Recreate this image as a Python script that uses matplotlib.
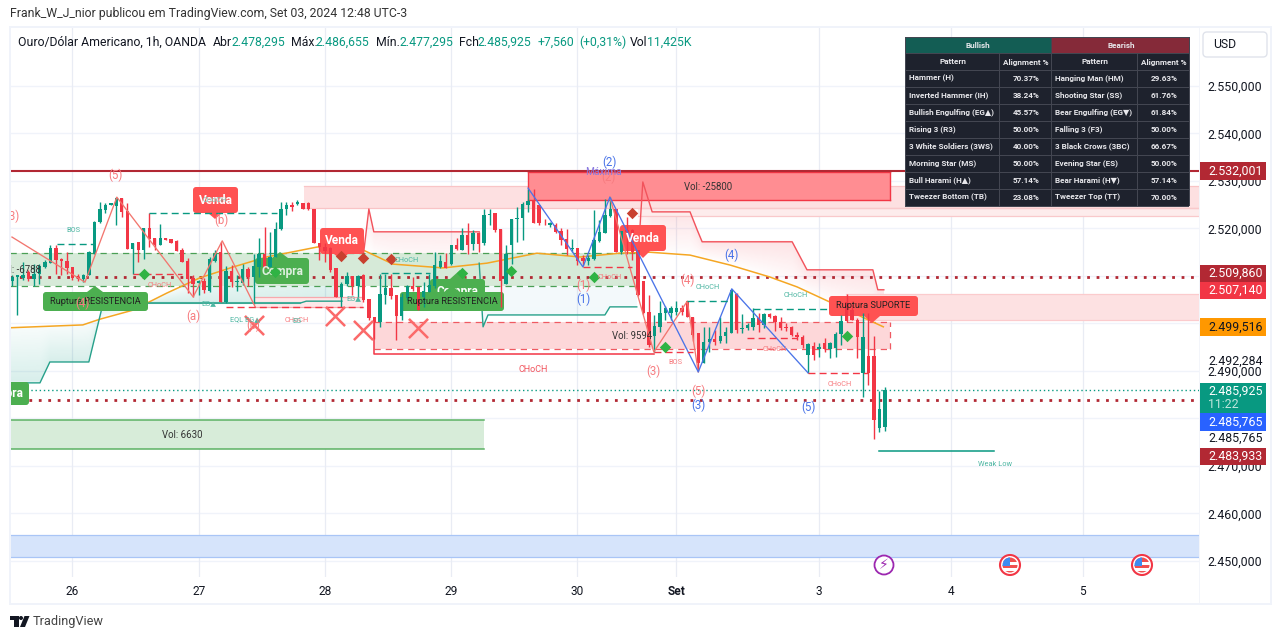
import numpy as np
import matplotlib
matplotlib.use("Agg")
import matplotlib.pyplot as plt
from matplotlib.patches import Rectangle, FancyBboxPatch, Circle, Polygon
from matplotlib.colors import to_rgb
from matplotlib.transforms import Affine2D

# ---------- candle data ----------
highs = [2510.2,2510.3,2513.0,2511.2,2512.6,2512.5,2513.3,2516.5,2516.5,2513.7,2515.1,2511.8,2510.5,2510.5,2515.3,2521.6,2525.6,2525.4,2525.4,2526.7,
 2526.5,2525.3,2516.9,2517.2,2520.0,2523.2,2517.9,2520.9,2518.1,2517.7,2517.6,2515.8,2513.8,2510.2,2509.1,2509.5,2514.0,2515.4,2517.2,2512.1,
 2512.3,2510.2,2512.6,2511.8,2514.7,2517.9,2520.4,2519.3,2521.4,2525.6,2525.6,2525.6,2526.0,2525.4,2525.6,2524.2,2516.9,2516.9,
 2516.0,2511.6,2508.8,2510.9,2510.0,2510.2,2510.5,2505.1,2501.4,2510.5,2510.5,2510.5,2506.0,2506.5,2508.1,2509.8,2507.7,2508.8,2510.5,2515.1,2514.4,2514.9,
 2516.5,2518.1,2520.0,2521.1,2519.7,2519.3,2524.2,2524.2,2523.2,2519.9,2516.5,2522.0,2524.6,2525.6,2528.4,2528.4,2524.9,2522.1,2521.4,2521.1,
 2520.0,2519.8,2517.7,2515.8,2514.4,2514.4,2523.9,2521.8,2526.3,2526.7,2524.2,2519.5,2522.5,2519.8,2515.4,2509.0,
 2506.0,2501.8,2504.7,2503.7,2503.6,2504.7,2503.9,2504.8,2501.3,2498.1,2499.3,2499.3,2498.6,2501.3,2499.2,2507.1,2506.4,2502.0,2500.0,2503.2,
 2502.3,2502.2,2502.3,2501.8,2501.3,2500.0,2499.5,2498.3,2497.6,2495.8,2496.2,2495.8,2496.9,2496.2,2498.3,2501.8,2506.2,2503.9,2501.1,2502.2,
 2502.2,2497.4,2485.7,2486.655]
lows = [2507.9,2501.8,2509.1,2509.0,2507.9,2508.4,2511.6,2512.8,2510.5,2510.2,2510.5,2509.1,2509.0,2508.8,2510.2,2514.7,2521.1,2523.2,2524.9,2520.7,
 2522.5,2515.6,2510.4,2513.0,2513.6,2516.1,2515.4,2516.5,2517.6,2517.0,2515.2,2513.0,2506.5,2505.6,2506.0,2506.5,2506.7,2513.0,2504.6,2504.4,
 2507.7,2506.9,2508.1,2507.9,2504.2,2509.8,2511.6,2511.9,2514.0,2519.7,2522.8,2523.7,2524.9,2524.2,2523.9,2516.9,2513.3,2513.0,
 2510.9,2505.5,2503.4,2507.9,2506.0,2505.6,2504.6,2500.8,2496.8,2499.3,2504.2,2505.1,2496.5,2500.7,2504.9,2506.9,2502.8,2503.5,2506.7,2507.4,2511.6,2511.6,
 2512.3,2515.4,2515.4,2514.7,2515.4,2515.1,2516.5,2520.7,2519.3,2503.5,2508.3,2512.6,2517.2,2517.6,2523.5,2521.1,2520.7,2520.7,2520.4,2519.0,
 2516.5,2514.4,2515.1,2512.3,2512.3,2512.3,2513.3,2517.2,2519.0,2522.5,2515.1,2514.7,2514.7,2513.3,2505.8,2502.1,
 2495.1,2493.9,2498.3,2500.7,2500.7,2501.8,2501.8,2501.3,2496.4,2489.9,2491.6,2494.1,2495.5,2495.8,2495.8,2497.9,2497.9,2497.9,2498.6,2498.6,
 2498.3,2499.0,2501.1,2498.5,2498.6,2498.5,2497.4,2496.5,2494.8,2489.5,2492.3,2493.0,2494.1,2492.7,2493.0,2495.5,2500.4,2500.7,2492.7,2484.6,
 2487.1,2475.6,2477.2,2477.295]
tops = [2509.8,2510.3,2510.2,2510.9,2510.5,2512.1,2512.9,2515.8,2515.8,2513.6,2513.1,2511.8,2509.8,2510.2,2515.0,2521.3,2524.0,2524.9,2525.3,2526.5,
 2526.4,2523.7,2516.9,2517.1,2520.0,2520.0,2517.9,2517.9,2518.1,2517.7,2517.3,2515.4,2513.1,2509.5,2508.9,2509.0,2513.6,2514.7,2515.1,2511.0,
 2511.0,2509.0,2511.4,2511.4,2512.1,2514.7,2514.7,2514.0,2519.8,2524.2,2524.9,2524.9,2525.6,2525.4,2525.3,2524.2,2516.9,2516.0,
 2515.8,2511.6,2508.4,2510.0,2510.0,2510.0,2510.2,2505.1,2501.4,2506.3,2507.4,2507.4,2506.0,2505.5,2507.9,2507.9,2507.6,2506.9,2508.1,2512.3,2513.1,2513.0,
 2516.5,2516.5,2518.6,2518.6,2519.0,2519.1,2522.8,2523.0,2523.2,2519.9,2514.7,2522.0,2522.3,2525.1,2525.8,2526.1,2524.9,2521.2,2521.2,2520.7,
 2519.5,2517.7,2515.8,2515.8,2513.7,2513.7,2517.6,2519.3,2522.8,2524.0,2524.2,2519.5,2519.7,2519.7,2515.4,2509.0,
 2502.5,2499.5,2502.2,2503.2,2503.2,2503.3,2503.3,2504.8,2501.3,2498.1,2496.2,2496.7,2496.7,2497.4,2498.3,2507.1,2506.2,2499.0,2499.7,2501.1,
 2501.1,2502.0,2502.0,2501.6,2500.4,2499.3,2499.3,2497.6,2497.2,2495.7,2495.3,2495.0,2495.8,2495.8,2497.8,2500.6,2504.6,2502.9,2500.7,2497.1,
 2493.2,2493.2,2481.9,2485.925]
bots = [2509.0,2509.8,2509.5,2509.3,2509.3,2510.4,2511.8,2512.8,2513.3,2513.1,2511.7,2509.5,2509.5,2509.3,2510.2,2514.7,2521.3,2523.9,2524.9,2524.8,
 2523.5,2515.6,2515.7,2515.4,2515.4,2517.8,2516.5,2516.5,2517.6,2517.0,2515.3,2513.0,2509.3,2508.4,2508.6,2507.0,2506.9,2513.2,2504.6,2504.6,
 2508.8,2508.8,2508.6,2509.7,2509.7,2511.9,2511.9,2511.9,2514.0,2519.8,2524.2,2524.6,2525.1,2524.2,2524.1,2516.9,2516.0,2515.3,
 2511.2,2505.5,2505.5,2508.3,2507.9,2507.9,2504.9,2501.1,2500.4,2500.4,2506.0,2505.8,2501.5,2501.5,2505.3,2507.2,2502.8,2505.6,2506.7,2507.9,2511.8,2511.6,
 2512.5,2515.6,2515.4,2516.5,2516.7,2516.7,2516.9,2522.8,2519.7,2509.0,2508.3,2516.5,2522.0,2522.3,2525.0,2521.1,2521.1,2521.1,2520.7,2519.3,
 2517.6,2515.6,2515.6,2513.1,2513.1,2513.2,2513.5,2517.4,2519.0,2522.6,2515.1,2515.1,2519.3,2515.1,2506.0,2502.2,
 2495.5,2497.4,2499.2,2502.2,2502.3,2502.4,2502.5,2501.3,2497.6,2491.6,2491.6,2496.2,2496.2,2496.4,2497.4,2497.9,2498.6,2498.8,2499.0,2499.3,
 2499.7,2499.7,2501.3,2500.4,2499.0,2499.1,2497.6,2497.1,2495.5,2493.4,2493.4,2494.6,2494.6,2494.6,2494.8,2497.8,2500.6,2500.7,2497.1,2489.5,
 2489.5,2479.7,2478.1,2478.295]
up = ("G G G R G G G G R R R R R G G G G G G G R R G R G R R G R R R R R R G R G G R G "
      "R G G R G G R G G G G R G R R R R R "
      "R R G G R G R R R G G R R G G R R G G G G R G R G R G R G G R R G G G G G R R R G R R R G R R G G G G G R G R R R R R "
      "G G G G G R R R R G G R G G G R G G G R G R R R R R R R G R G R G G G R R R G R R G").split()

ema_k = [-0.4,12.9,16.0,22,28.2,34.2,40.3,46.4,55.6,63.9,69.4,78.5,86.5,95.6,103.5,110.7,116.2,123.5,130.8,138,143,149,158.7]
ema_p = [2499.1,2499.7,2500.9,2502.8,2506.4,2509.6,2511.9,2514,2516.1,2515.5,2512.5,2511.7,2512.7,2514.8,2514,2514.8,2515,2514.4,2512.3,2509.8,2507.7,2504.5,2499.3]

teal1_k = [-0.4,5.1,6.9,14,16.6,52.5,53.6,60.1]
teal1_p = [2487.5,2487.5,2491.9,2491.9,2504.3,2504.3,2504.7,2504.7]
teal2_k = [85.1,85.8,86.7,108,108.9,113.8]
teal2_p = [2512.7,2499.3,2501.8,2501.8,2503.5,2503.5]
trail1_k = [63.9,65,65.9,85.1]
trail1_p = [2513.4,2524.1,2519.3,2519.3]
trail2_k = [114,114.9,116.6,123.5,124.8,125.7,142.1,144.8,156.8,157.7,158.8]
trail2_p = [2513.4,2529.8,2523.5,2523.5,2519.7,2517.2,2517.2,2511.3,2511.3,2507.1,2507.1]

wave_red1_k = [0,13.3,19.1,33,38.3,44.3]
wave_red1_p = [2518.2,2508.7,2526.6,2505.6,2517.4,2503.5]
wave_red2_k = [108.9,116.9,123,125]
wave_red2_p = [2526.6,2494,2504.7,2489.8]
wave_blue_k = [94,104,108.9,125,131.1,145]
wave_blue_p = [2528.5,2511.9,2526.6,2489.8,2507.3,2489.6]

green_struct = [(8.2,15.1,2516.7),(25,48.3,2523.3),(67.2,76.1,2510.6),(123,131.1,2504.7),(135,149,2503.1)]
red_struct = [(22,31,2510.4),(39,63.9,2503.5),(104,113,2511.9),(117,124,2494),(133.9,143,2497),(145,156,2489.6)]
weak_low = 2473.2
weak_k = [157.9,178.9]

small_k = [11.1,27,35.9,42.4,51.9,51.9,71.9,62.3,108.9,120.9,126.8,142.8,139,150.8,179]
small_p = [2519.5,2508.1,2504.1,2500.9,2500.7,2500.5,2513.2,2505.2,2509.6,2491.7,2507.5,2505.8,2494.6,2487.1,2470.4]
small_t = ["BOS","CHoCH","EG▲","EQL EG▲","CHoCH","EG","CHoCH","EG▲","CHoCH","BOS","CHoCH","CHoCH","CHoCH","CHoCH","Weak Low"]
small_c = ["t","r","t","t","r","t","t","t","r","r","t","t","r","r","t"]

wave_lbl_k = [18.9,0,38.1,33,12.9,43.9,104,108.6,116.9,123,125]
wave_lbl_p = [2531.1,2522.6,2521.8,2501.6,2504.3,2499.7,2508.1,2530.8,2490,2509,2485.8]
wave_lbl_t = ["(5)","(3)","(b)","(a)","(4)","(c)","(1)","(2)","(3)","(4)","(5)"]
blue_lbl_k = [108.9,104,125,131,145]
blue_lbl_p = [2534,2505,2482.8,2514.4,2482.4]
blue_lbl_t = ["(2)","(1)","(3)","(4)","(5)"]

dia_g_k = [24,47.9,82,90.9,106,118.9,152.1]
dia_g_p = [2510.4,2510.8,2510.6,2511,2509.8,2495,2497.4]
dia_r_k = [59.9,63.9,69,112.9]
dia_r_p = [2514.2,2513.8,2513.6,2523.3]
x_k = [44.1,58.8,63.9,74]
x_p = [2499.7,2501.6,2498.6,2499]

line_max = 2532.001
line_dot1 = 2509.86
line_dot2 = 2483.80
line_last = 2485.925

grid_prices = [2550,2540,2530,2520,2510,2500,2490,2480,2470,2460,2450]
tick_prices = [2550,2540,2530,2520,2490,2470,2460,2450]
day_k = [11,34,57,80,103,121,147,171,195]
day_lbl = ["26","27","28","29","30","Set","3","4","5"]

table_bull = [("Hammer (H)","70.37%"),("Inverted Hammer (IH)","38.24%"),("Bullish Engulfing (EG▲)","45.57%"),("Rising 3 (R3)","50.00%"),
              ("3 White Soldiers (3WS)","40.00%"),("Morning Star (MS)","50.00%"),("Bull Harami (H▲)","57.14%"),("Tweezer Bottom (TB)","23.08%")]
table_bear = [("Hanging Man (HM)","29.63%"),("Shooting Star (SS)","61.76%"),("Bear Engulfing (EG▼)","61.84%"),("Falling 3 (F3)","50.00%"),
              ("3 Black Crows (3BC)","66.67%"),("Evening Star (ES)","50.00%"),("Bear Harami (H▼)","57.14%"),("Tweezer Top (TT)","70.00%")]

# ---------- styles ----------
FONT = ["Roboto", "DejaVu Sans"]
plt.rcParams["font.family"] = FONT
W, H = 1281, 640
GREEN, RED = "#089981", "#f23645"
TEAL_T, RED_T = "#4db6a2", "#f77c80"

fig = plt.figure(figsize=(W/100, H/100), dpi=100, facecolor="white")
PX = Affine2D().scale(1, -1).translate(0, H)          # layout helper: pixel coords, y down
ax = fig.add_axes([10/W, 1-577/H, (1199-10)/W, (577-27)/H], zorder=0)
XL, YL = (-0.36, 216.2), (2446.63, 2562.42)
for s in ax.spines.values():
    s.set_visible(False)

for p in grid_prices:
    ax.axhline(p, color="#f0f3fa", lw=1, zorder=0)
ax.set_xticks(day_k)
ax.set_xticklabels(day_lbl, fontsize=8.6, color="#131722")
ax.get_xticklabels()[5].set_fontweight("bold")
ax.grid(axis="x", color="#e9ecf4", lw=0.9, zorder=0)
ax.set_axisbelow(True)
ax.tick_params(axis="x", length=0, pad=6)
ax.yaxis.tick_right()
ax.set_yticks(tick_prices)
ax.set_yticklabels([f"{p:,.3f}".replace(",", "#").replace(".", ",").replace("#", ".") for p in tick_prices],
                   fontsize=8.9, color="#131722")
ax.tick_params(axis="y", length=0, pad=6)
R_END = 216.2

def band(line_k, line_p, other_k, other_p, colour, a_line, a_far, z=1):
    """Column-wise gradient between a line (strongest) and a second line (faintest)."""
    ks = np.linspace(line_k[0], line_k[-1], 500)
    ps = np.linspace(2480, 2535, 500)
    a = np.interp(ks, line_k, line_p)
    b = np.interp(ks, other_k, other_p)
    P, _ = np.meshgrid(ps, ks, indexing="ij")
    d = b - a
    d[np.abs(d) < 1e-6] = 1e-6
    t = (P - a) / d
    al = np.where((t >= 0) & (t <= 1), a_line + (a_far - a_line) * t, 0.0)
    img = np.zeros((500, 500, 4))
    img[..., :3] = to_rgb(colour)
    img[..., 3] = al
    ax.imshow(img, extent=[ks[0], ks[-1], ps[0], ps[-1]], origin="lower", aspect="auto", zorder=z, interpolation="bilinear")

band(teal1_k, teal1_p, ema_k, ema_p, GREEN, 0.16, 0.03)
band(teal2_k, teal2_p, ema_k, ema_p, "#2aa0c0", 0.06, 0.05)
band(trail1_k, trail1_p, ema_k, ema_p, RED, 0.10, 0.01)
band(trail2_k, trail2_p, ema_k, ema_p, RED, 0.14, 0.01)

def zone(k0, k1, p0, p1, fc, ec=None, ls="-", lw=0.9, alpha=1, z=1.5):
    ax.add_patch(Rectangle((k0, p0), k1-k0, p1-p0, fc=fc, ec="none", alpha=alpha, zorder=z))
    if ec:
        ax.plot([k0, k1], [p0, p0], color=ec, ls=ls, lw=lw, zorder=z+.1)
        ax.plot([k0, k1], [p1, p1], color=ec, ls=ls, lw=lw, zorder=z+.1)

zone(-0.36, R_END, 2450.9, 2455.5, "#d6e4fb", "#a9c5f6")
zone(-0.36, 86, 2473.6, 2479.7, "#d7ecd9", "#5cb264", lw=1.1)
zone(-0.36, 114, 2507.9, 2514.8, "#d6ead8", "#4a9f55", ls=(0, (5, 4)))
zone(53.2, R_END, 2524.3, 2529.0, "#fde0e1", "#f9c4c6")
zone(114, R_END, 2522.6, 2524.3, "#fdecec", "#f9c9cb")
zone(151.9, R_END, 2500.7, 2506.2, "#fde1e2", "#fbcbcd")
zone(65.9, 159.9, 2494.6, 2500.3, "#fdd7d9", "#ef5a62", ls=(0, (5, 4)))
ax.plot([159.9, 159.9], [2494.6, 2500.3], color="#ef5a62", ls=(0, (5, 4)), lw=0.9, zorder=1.6)
ax.plot([65.9, 65.9, 117], [2500.3, 2493.6, 2493.6], color=RED, lw=1.1, zorder=3)
zone(44.3, 63.9, 2503.5, 2505.6, "#fde8e9", "#f7a9ad")
ax.plot([25, 52.5], [2504.4, 2504.4], color="#7cc8b8", lw=1.5, zorder=2)
zone(94, 160, 2526.0, 2531.9, "#ff8d92", RED, lw=1, z=1.8)
ax.plot([94, 94], [2526.0, 2531.9], color=RED, lw=1, zorder=1.9)
ax.plot([160, 160], [2526.0, 2531.9], color=RED, lw=1, zorder=1.9)

ax.axhline(line_max, color="#b22833", lw=1.5, zorder=2.5)
ax.axhline(line_dot1, color="#b22833", lw=2, ls=(0, (1, 2.4)), zorder=2.5)
ax.axhline(line_dot2, color="#b22833", lw=2, ls=(0, (1, 2.4)), zorder=2.5)
ax.axhline(line_last, color=GREEN, lw=1, ls=(0, (1, 2)), zorder=2.5)

ax.plot(ema_k, ema_p, color="#f5a623", lw=1.1, zorder=3)
ax.plot(teal1_k, teal1_p, color="#26a08a", lw=1, zorder=3)
ax.plot(teal2_k, teal2_p, color="#26a08a", lw=1, zorder=3)
ax.plot(trail1_k, trail1_p, color="#f2535c", lw=1, zorder=3)
ax.plot(trail2_k, trail2_p, color="#f2535c", lw=1, zorder=3)

# candles
x = np.arange(len(highs))
cols = np.array([GREEN if c == "G" else RED for c in up])
ax.vlines(x, lows, highs, colors=cols, lw=1.0, zorder=4)
ax.bar(x, np.array(tops)-np.array(bots), bottom=bots, width=0.62, color=cols, lw=0, zorder=4.1)

ax.plot(wave_red1_k, wave_red1_p, color="#f2766f", lw=0.95, zorder=5)
ax.plot(wave_red2_k, wave_red2_p, color="#f2766f", lw=0.95, zorder=5)
ax.plot(wave_blue_k, wave_blue_p, color="#4a74e8", lw=0.95, zorder=5)
for k0, k1, p in green_struct:
    ax.plot([k0, k1], [p, p], color=GREEN, lw=1, ls=(0, (5, 3)), zorder=5)
for k0, k1, p in red_struct:
    ax.plot([k0, k1], [p, p], color=RED, lw=1, ls=(0, (5, 3)), zorder=5)
ax.plot(weak_k, [weak_low, weak_low], color=GREEN, lw=1.1, zorder=5)

ax.scatter(dia_g_k, dia_g_p, marker="D", s=34, color="#2fb344", lw=0, zorder=11)
ax.scatter(dia_r_k, dia_r_p, marker="D", s=34, color="#c8402f", lw=0, zorder=7)
ax.scatter(x_k, x_p, marker="x", s=190, color="#fb6a6a", lw=1.8, zorder=6)

for k, p, t, c in zip(small_k, small_p, small_t, small_c):
    ax.text(k, p, t, fontsize=5.3, color=TEAL_T if c == "t" else RED_T, ha="center", va="center", zorder=12, clip_on=True)
ax.text(94.9, 2490.4, "CHoCH", fontsize=6.5, color="#f2535c", ha="center", va="center", zorder=12)
for k, p, t in zip(wave_lbl_k, wave_lbl_p, wave_lbl_t):
    ax.text(k, p, t, fontsize=8.3, color="#f77c80", ha="center", va="center", zorder=12, clip_on=True)
for k, p, t in zip(blue_lbl_k, blue_lbl_p, blue_lbl_t):
    ax.text(k, p, t, fontsize=8.3, color="#4a74e8", ha="center", va="center", zorder=12, clip_on=True)
ax.text(107.8, 2531.9, "Máxima", fontsize=7.4, color="#8a7ae0", ha="center", va="center", zorder=12)
ax.text(126.8, 2528.7, "Vol: -25800", fontsize=6.9, color="#333333", ha="center", va="center", zorder=12)
ax.text(112.9, 2497.4, "Vol: 9594", fontsize=6.9, color="#333333", ha="center", va="center", zorder=12)
ax.text(31, 2476.5, "Vol: 6630", fontsize=6.9, color="#333333", ha="center", va="center", zorder=12)
ax.text(1.3, 2511.3, "Vol: -6788", fontsize=6.9, color="#333333", ha="center", va="center", zorder=12, clip_on=True)

def badge(x0, y0, x1, y1, fc, text, tc, fs, weight="bold", tip=None, tx=None, z=3.9, tz=10):
    box = FancyBboxPatch((x0+2, y0+2), x1-x0-4, y1-y0-4, boxstyle="round,pad=2,rounding_size=3",
                         fc=fc, ec="none", transform=PX, zorder=z)
    ax.add_patch(box); box.set_clip_path(ax.patch)
    if tip:
        tri = Polygon(tip, closed=True, fc=fc, ec="none", transform=PX, zorder=z)
        ax.add_patch(tri); tri.set_clip_path(ax.patch)
    t = ax.text(tx if tx is not None else (x0+x1)/2, (y0+y1)/2, text, color=tc, fontsize=fs, fontweight=weight,
                ha="center", va="center", transform=PX, zorder=tz, clip_on=True)
    t.set_clip_path(ax.patch)

VEN, COM = "#ff5252", "#4caf50"
badge(193,187,238,213,VEN,"Venda","white",8.6,tip=[(208,213),(222,213),(215,219)])
ax.text(215,200,"CHoCH",fontsize=5.3,color="#7fcabb",ha="center",va="center",transform=PX,zorder=11)
badge(320,228,364,254,VEN,"Venda","white",8.6,tip=[(334,254),(348,254),(341,260)])
badge(620,225,666,251,VEN,"Venda","white",8.6,tip=[(636,251),(650,251),(643,258)])
badge(255,258,309,284,COM,"Compra","#dff0e0",8.6,tip=[(272,258),(288,258),(280,252)])
badge(430,279,485,305,COM,"Compra","white",8.6,tip=[(450,279),(466,279),(460,270)],z=3.7,tz=3.75)
badge(-24,382,29,405,COM,"Compra","white",8.6,tx=2)
badge(43,292,148,311,COM,"Ruptura RESISTENCIA","#222222",6.7,weight="normal",tip=[(87,292),(103,292),(95,286)])
badge(400,292,504,311,COM,"Ruptura RESISTENCIA","#222222",6.7,weight="normal",tip=[(444,292),(460,292),(452,286)])
badge(829,296,918,316,VEN,"Ruptura SUPORTE","#222222",6.7,weight="normal",tip=[(864,316),(880,316),(872,323)])

ax.set_xlim(*XL)
ax.set_ylim(*YL)

# ---------- figure-level layout ----------
def ftext(x_, y_, s, color="#131722", fs=8.6, ha="left", weight="normal", z=20):
    return fig.text(x_, y_, s, transform=PX, color=color, fontsize=fs, ha=ha, va="center", fontweight=weight, zorder=z)

def frect(x0, y0, x1, y1, fc, ec="none", lw=0, z=15):
    r = Rectangle((x0, y0), x1-x0, y1-y0, transform=PX, fc=fc, ec=ec, lw=lw, zorder=z)
    fig.add_artist(r)
    return r

BORDER = "#f0f3fa"
frect(9, 26, 1271, 28, BORDER, z=1)
frect(9, 603, 1271, 605, BORDER, z=1)
frect(9, 26, 11, 605, BORDER, z=1)
frect(1270, 26, 1272, 605, BORDER, z=1)
frect(1199, 28, 1200, 603, "#f3f5fa", z=1)

ftext(10, 14, "Frank_W_J_nior publicou em TradingView.com, Set 03, 2024 12:48 UTC-3", "#333333", 8.8)
hdr = [(18,"Ouro/Dólar Americano, 1h, OANDA","#131722"),(213,"Abr","#131722"),(231,"2.478,295",GREEN),(291,"Máx.","#131722"),
       (316,"2.486,655",GREEN),(376,"Mín.","#131722"),(399,"2.477,295",GREEN),(459,"Fch","#131722"),(478,"2.485,925",GREEN),
       (538,"+7,560",GREEN),(579,"(+0,31%)",GREEN),(630,"Vol","#131722"),(647,"11,425K",GREEN)]
for hx, s, c in hdr:
    ftext(hx, 42, s, c, 8.8)

b = FancyBboxPatch((1205, 34), 60, 21, boxstyle="round,pad=2,rounding_size=4", fc="white", ec="#e0e3eb", lw=1, transform=PX, zorder=15)
fig.add_artist(b)
ftext(1213, 44.5, "USD", "#131722", 8.8)

frect(1200, 354, 1266, 367, "white", z=15)
ftext(1208, 361, "2.492,284", "#131722", 8.9)
frect(1200, 431, 1266, 446, "white", z=15)
ftext(1208, 438, "2.485,765", "#131722", 8.9)
tags = [(162,180,"#b22833","2.532,001","white"),(265,282,"#b22833","2.509,860","white"),(282,299,"#f23645","2.507,140","white"),
        (318,336,"#ff9800","2.499,516","#131722"),(413,431,"#2962ff","2.485,765","white"),(448,465,"#b22833","2.483,933","white")]
for y0, y1, c, s, tc in tags:
    frect(1200, y0, 1266, y1, c)
    ftext(1208, (y0+y1)/2, s, tc, 8.9)
frect(1200, 383, 1266, 413, GREEN)
ftext(1208, 391, "2.485,925", "white", 8.9)
ftext(1208, 405, "11:22", "#bfe6dd", 8.9)

cols_x = [905, 999, 1051, 1137, 1189]
rows_y = [37, 53, 70, 87, 104, 121, 138, 155, 172, 189, 206]
TB = "#1e222d"; LINE = "#434651"
frect(cols_x[0], rows_y[0], cols_x[2], rows_y[1], "#135d54", z=15)
frect(cols_x[2], rows_y[0], cols_x[4], rows_y[1], "#852a39", z=15)
frect(cols_x[0], rows_y[1], cols_x[4], rows_y[-1], TB, z=15)
for yy in rows_y:
    frect(cols_x[0], yy-0.5, cols_x[4], yy+0.5, LINE, z=16)
for i, xx in enumerate(cols_x):
    y0 = rows_y[0] if i in (0, 2, 4) else rows_y[1]
    frect(xx-0.5, y0, xx+0.5, rows_y[-1], LINE, z=16)
TW = "#e8e8ec"; TFS = 5.9
def ttext(xx, yy, s, ha="left"):
    fig.text(xx, yy, s, transform=PX, color=TW, fontsize=TFS, ha=ha, va="center", fontweight="bold", zorder=20,
             family=["Roboto", "DejaVu Sans"])
ttext(978, 45.5, "Bullish", "center"); ttext(1121, 45.5, "Bearish", "center")
ttext(953, 62, "Pattern", "center"); ttext(1026, 62, "Alignment %", "center")
ttext(1095, 62, "Pattern", "center"); ttext(1164, 62, "Alignment %", "center")
for i, ((a, ap), (b_, bp)) in enumerate(zip(table_bull, table_bear)):
    yy = (rows_y[i+2] + rows_y[i+3]) / 2
    ttext(909, yy, a); ttext(1026, yy, ap, "center")
    ttext(1055, yy, b_); ttext(1164, yy, bp, "center")

c = Circle((884, 565), 9.5, transform=PX, fc="white", ec="#9c27b0", lw=1.3, zorder=15)
fig.add_artist(c)
fig.text(884, 565, "⚡", transform=PX, color="#9c27b0", fontsize=10, ha="center", va="center", family="DejaVu Sans", zorder=20)
for cx in (1010, 1142):
    fig.add_artist(Circle((cx, 565), 10, transform=PX, fc="white", ec="#f23645", lw=1.5, zorder=15))
    clip = Circle((cx, 565), 7.5, transform=PX)
    for r in [frect(cx-8, 565, cx+8, 568, "#f04f4f", z=16), frect(cx-8, 571, cx+8, 574, "#f04f4f", z=16),
              frect(cx-8, 556, cx+8, 562, "#f04f4f", z=16), frect(cx-8, 556, cx, 566, "#3d8bf0", z=17)]:
        r.set_clip_path(clip)

fig.add_artist(Polygon([(10,616),(18.5,616),(18.5,627),(14,627),(14,620),(10,620)], transform=PX, fc="#131722", ec="none", zorder=15))
fig.add_artist(Circle((21,618), 2, transform=PX, fc="#131722", ec="none", zorder=15))
fig.add_artist(Polygon([(24.5,616),(29.5,616),(25,627),(20,627)], transform=PX, fc="#131722", ec="none", zorder=15))
ftext(33, 622, "TradingView", "#444444", 9.2)

fig.savefig("out.png", dpi=100, facecolor="white")
